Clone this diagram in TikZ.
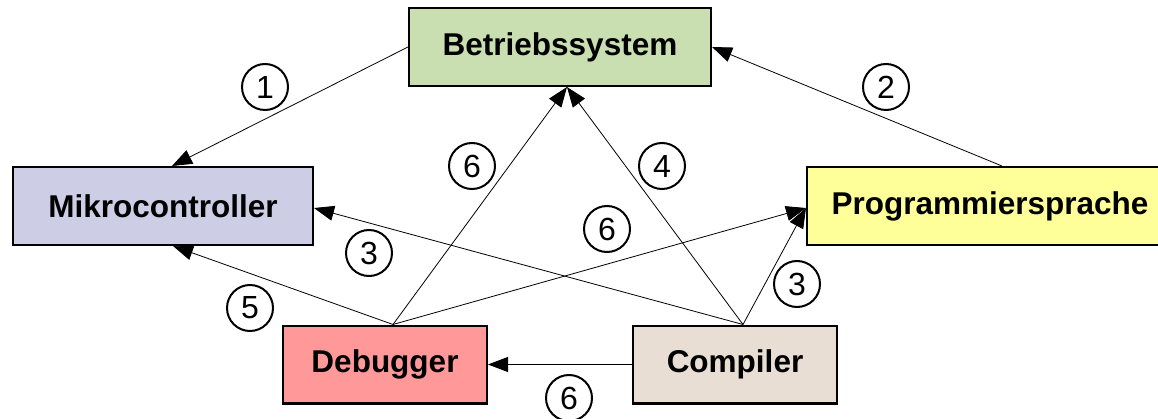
\documentclass[tikz,border=0pt]{standalone}
\usepackage{fontspec}
\setmainfont{Liberation Sans}
\usepackage{tikz}
\usetikzlibrary{arrows.meta}
\definecolor{colbs}{HTML}{C9DFB1}
\definecolor{colmc}{HTML}{CDCDE6}
\definecolor{colps}{HTML}{FFFF99}
\definecolor{coldb}{HTML}{FF9999}
\definecolor{colcp}{HTML}{E8DED3}

\begin{document}
\begin{tikzpicture}[x=1pt, y=-1pt]
    \tikzstyle{box} = [rectangle, draw=black, line width=2.4pt, minimum height=77.6pt, inner sep=0pt,
                       font=\bfseries\fontsize{31.5}{36}\selectfont];
    \tikzstyle{num} = [circle, draw=black, line width=2pt, minimum size=46pt, inner sep=0pt,
                       font=\fontsize{32}{36}\selectfont];
    \useasboundingbox (0,0) rectangle (1158,419);

    \node (bs)  at (560, 47)    [box, fill=colbs, minimum width=301.6pt] {Betriebssystem};
    \node (mc)  at (163, 206)   [box, fill=colmc, minimum width=299.6pt] {Mikrocontroller};
    \node (ps)  at (990, 206)   [box, fill=colps, minimum width=365.6pt] {Programmiersprache};
    \node (dbg) at (385, 364.5) [box, fill=coldb, minimum width=203.6pt] {Debugger};
    \node (cmp) at (735, 364.5) [box, fill=colcp, minimum width=203.6pt] {Compiler};

    \node (n1)  at (265, 87)  [num] {1};
    \node (n2)  at (886, 87)  [num] {2};
    \node (n6a) at (472, 166) [num] {6};
    \node (n4)  at (662, 166) [num] {4};
    \node (n6b) at (607, 229) [num] {6};
    \node (n3a) at (369, 253) [num] {3};
    \node (n3b) at (797, 284) [num] {3};
    \node (n5)  at (250, 308) [num] {5};
    \node (n6c) at (569, 398) [num] {6};

    \begin{scope}[-{Triangle[length=20pt, width=15pt]}, line width=0.8pt]
      \draw (bs.west) -- ([xshift=9pt]mc.north);
      \draw ([xshift=12pt]ps.north) -- (bs.east);

      \draw ([xshift=8pt]cmp.north) -- ([yshift=-2pt]mc.east);
      \draw ([xshift=8pt]cmp.north) -- ([yshift=-2pt]ps.west);
      \draw ([xshift=8pt]cmp.north) -- ([xshift=7pt]bs.south);

      \draw ([xshift=8pt]dbg.north) -- ([xshift=10pt]mc.south);
      \draw ([xshift=8pt]dbg.north) -- ([xshift=7pt]bs.south);
      \draw ([xshift=8pt]dbg.north) -- ([yshift=-2pt]ps.west);

      \draw (cmp.west) -- (dbg.east);
    \end{scope}
\end{tikzpicture}
\end{document}
